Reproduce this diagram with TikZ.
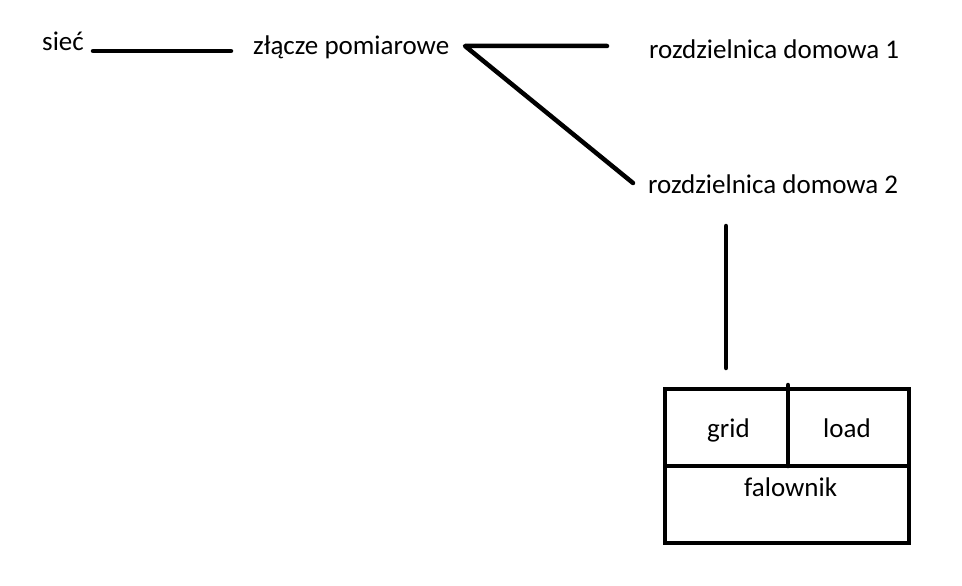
\documentclass[tikz,border=0pt]{standalone}
\usepackage{fontspec}
\setmainfont{Carlito}
\begin{document}
\begin{tikzpicture}[x=1pt,y=-1pt,
  lbl/.style={anchor=base west,inner sep=0pt,font=\fontsize{27}{30}\selectfont},
  wire/.style={line width=4.5pt,line cap=round,line join=round},
  frame/.style={line width=4.5pt}]
\fill[white] (0,0) rectangle (962,586);
\useasboundingbox (0,0) rectangle (962,586);
% labels
\node[lbl] (siec) at (42,51) {sieć};
\node[lbl] (zl) at (253,55) {złącze pomiarowe};
\node[lbl] (rd1) at (649,58.5) {rozdzielnica domowa 1};
\node[lbl] (rd2) at (648,193) {rozdzielnica domowa 2};
% connector ends
\coordinate (a1) at (93,51);
\coordinate (a2) at (231,51);
\coordinate (b0) at (465,46);
\coordinate (b1) at (607,46);
\coordinate (b2) at (633,183);
\coordinate (c1) at (726,226);
\coordinate (c2) at (726,368);
\draw[wire] (a1) -- (a2);
\draw[wire] (b1) -- (b0) -- (b2);
\draw[wire] (c1) -- (c2);
% inverter box
\coordinate (tl) at (665,389);
\coordinate (tm) at (788,385);
\coordinate (mm) at (788,466);
\coordinate (ml) at (665,466);
\coordinate (mr) at (909,466);
\coordinate (br) at (909,543);
\draw[frame] (tl) rectangle (br);
\draw[frame] (ml) -- (mr);
\draw[frame,line cap=round] (tm) -- (mm);
\node[lbl] (grid) at (707,437) {grid};
\node[lbl] (load) at (823,437) {load};
\node[lbl] (fal) at (744,496) {falownik};
\end{tikzpicture}
\end{document}
